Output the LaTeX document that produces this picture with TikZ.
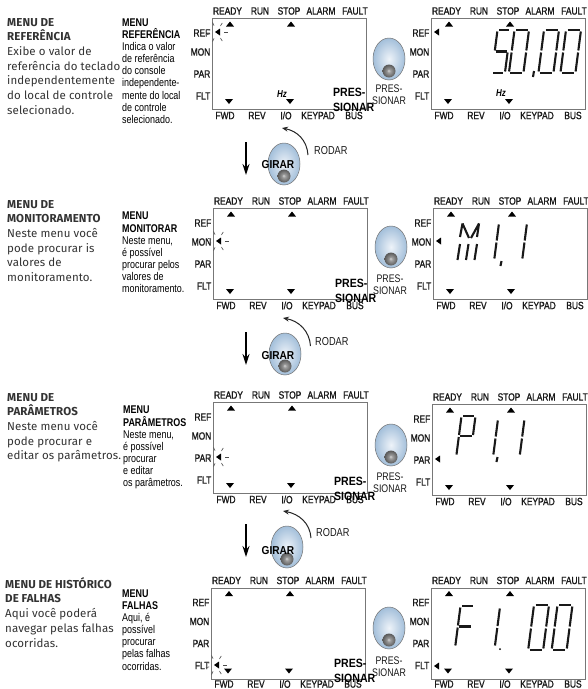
\documentclass[tikz,border=0pt]{standalone}
\usepackage{fontspec}
\setmainfont{Liberation Sans}
\newfontfamily\din[LetterSpace=1]{Fira Sans}
\newfontfamily\narrow[FakeStretch=0.8]{Liberation Sans}
\newfontfamily\lab[FakeStretch=0.8,FakeBold=1.2]{Liberation Sans}
\newfontfamily\pressf[FakeStretch=0.88]{Liberation Sans}
\definecolor{boxgray}{HTML}{777777}
\definecolor{bodytxt}{HTML}{333333}
\definecolor{knobin}{HTML}{EEF3F9}
\definecolor{knobout}{HTML}{A3BFDA}
\usetikzlibrary{arrows.meta,shapes.geometric}
\tikzset{
  lcdbox/.style={draw=boxgray,line width=1.2pt},
  lcdlabel/.style={inner sep=0pt,font=\lab\fontsize{10.5}{12}\selectfont,text=black!90},
  sidelabel/.style={lcdlabel,anchor=east},
  segline/.style={line width=2.1pt,black!90},
  tri/.style={fill=black,draw=none},
  ray/.style={line width=0.6pt,black!70},
  hzlabel/.style={inner sep=0pt,font=\narrow\bfseries\itshape\fontsize{10}{11}\selectfont},
  menuhead/.style={anchor=north west,align=left,inner sep=0pt,text=bodytxt,font=\din\fontsize{11.5}{14.7}\selectfont},
  menumid/.style={anchor=north west,align=left,inner sep=0pt,text=black,font=\narrow\fontsize{11.2}{12.1}\selectfont},
  presslabel/.style={inner sep=0pt,align=left,anchor=north west,text=black,font=\pressf\bfseries\fontsize{12}{14.6}\selectfont},
  knoblabel/.style={inner sep=0pt,align=center,text=black!90,font=\narrow\fontsize{11}{12}\selectfont},
  turnlabel/.style={inner sep=0pt,text=black!90,font=\narrow\fontsize{11.5}{13}\selectfont},
  girarlabel/.style={inner sep=0pt,text=black,font=\pressf\bfseries\fontsize{11.5}{12}\selectfont},
  downarrow/.style={-{Stealth[length=11pt,width=7pt]},line width=1.5pt,black},
  turnarrow/.style={-{Stealth[length=6pt,width=5pt]},line width=1pt,black!85},
}
\def\botoff{97.5}
% LCD panel: prefix, x, y
\newcommand\lcdpanel[3]{%
  \begin{scope}[shift={(#2,#3)}]
    \node[lcdbox,draw,inner sep=0pt,minimum width=154pt,minimum height=91pt,anchor=north west] (#1box) at (0,0) {};
    \node[lcdlabel] (#1ready) at (15.5,-7) {READY};
    \node[lcdlabel] (#1run) at (48,-7) {RUN};
    \node[lcdlabel] (#1stop) at (77,-7) {STOP};
    \node[lcdlabel] (#1alarm) at (109,-7) {ALARM};
    \node[lcdlabel] (#1fault) at (143,-7) {FAULT};
    \node[lcdlabel] (#1fwd) at (13,\botoff) {FWD};
    \node[lcdlabel] (#1rev) at (45,\botoff) {REV};
    \node[lcdlabel] (#1io) at (74,\botoff) {I/O};
    \node[lcdlabel] (#1keypad) at (106,\botoff) {KEYPAD};
    \node[lcdlabel] (#1bus) at (142,\botoff) {BUS};
    \node[sidelabel] (#1ref) at (-1.5,15) {REF};
    \node[sidelabel] (#1mon) at (-1.5,34) {MON};
    \node[sidelabel] (#1par) at (-1.5,56) {PAR};
    \node[sidelabel] (#1flt) at (-1.5,78) {FLT};
    \fill[tri] (14,8.5) -- (22,8.5) -- (18,3.5) -- cycle;
    \fill[tri] (75,8.5) -- (83,8.5) -- (79,3.5) -- cycle;
    \fill[tri] (13,81) -- (21,81) -- (17,86) -- cycle;
    \fill[tri] (74,81) -- (82,81) -- (78,86) -- cycle;
  \end{scope}}
% active marker, relative to box corner
\newcommand\marker[3]{%
  \begin{scope}[shift={(#1,#2)}]
    \fill[tri] (3,#3) -- (8,#3-3.5) -- (8,#3+3.5) -- cycle;
  \end{scope}}
\newcommand\blink[3]{%
  \begin{scope}[shift={(#1+5,#2+#3)}]
    \marker{-5}{0}{0}
    \foreach \a in {0,60,115,245,300,165,195}
      \draw[ray] (\a:7) -- (\a:10.5);
  \end{scope}}
% seven segment digit: x,y,w,h,segments
\newcommand\segdigit[5]{%
  \begin{scope}[shift={(#1,#2)},xslant=0.13]
    \pgfmathsetmacro\sw{#3}\pgfmathsetmacro\sh{#4}\pgfmathsetmacro\shm{#4/2}
    \foreach \s in {#5}{\csname seg\s\endcsname}
  \end{scope}}
\def\sega{\draw[segline] (1.5,0) -- (\sw-1.5,0);}
\def\segb{\draw[segline] (\sw,1.5) -- (\sw,\shm-1);}
\def\segc{\draw[segline] (\sw,\shm+1) -- (\sw,\sh-1.5);}
\def\segd{\draw[segline] (1.5,\sh) -- (\sw-1.5,\sh);}
\def\sege{\draw[segline] (0,\shm+1) -- (0,\sh-1.5);}
\def\segf{\draw[segline] (0,1.5) -- (0,\shm-1);}
\def\segg{\draw[segline] (1,\shm) -- (\sw-1,\shm);}
\newcommand\knob[3]{%
  \node[ellipse,draw=black!55,line width=0.5pt,minimum width=32pt,minimum height=42pt,inner sep=0pt,
        shading=radial,inner color=knobin,outer color=knobout] (#1) at (#2,#3) {};
  \node[circle,inner sep=0pt,minimum size=13pt,shading=radial,inner color=gray!60,outer color=black!65] (#1in) at (#2,#3+12) {};
  \fill[gray!50] (#2,#3+12) circle (1.5pt);}
\begin{document}
\begin{tikzpicture}[x=1pt,y=-1pt]
\useasboundingbox[fill=white] (0,0) rectangle (588,689);

% left column
\node[menuhead] (h1) at (7,18) {\textbf{MENU DE}\\\textbf{REFERÊNCIA}\\Exibe o valor de\\referência do teclado\\independentemente\\do local de controle\\selecionado.};
\node[menuhead] (h2) at (7,200) {\textbf{MENU DE}\\\textbf{MONITORAMENTO}\\Neste menu você\\pode procurar is\\valores de\\monitoramento.};
\node[menuhead] (h3) at (7,393) {\textbf{MENU DE}\\\textbf{PARÂMETROS}\\Neste menu você\\pode procurar e\\editar os parâmetros.};
\node[menuhead] (h4) at (5,577) {\textbf{MENU DE HISTÓRICO}\\\textbf{DE FALHAS}\\Aqui você poderá\\navegar pelas falhas\\ocorridas.};

% middle column
\node[menumid] (m1) at (122,18.5) {\textbf{MENU}\\\textbf{REFERÊNCIA}\\Indica o valor\\de referência\\do console\\independente-\\mente do local\\de controle\\selecionado.};
\node[menumid] (m2) at (122,212) {\textbf{MENU}\\\textbf{MONITORAR}\\Neste menu,\\é possível\\procurar pelos\\valores de\\monitoramento.};
\node[menumid] (m3) at (123,406) {\textbf{MENU}\\\textbf{PARÂMETROS}\\Neste menu,\\é possível\\procurar\\e editar\\os parâmetros.};
\node[menumid] (m4) at (122,589.5) {\textbf{MENU}\\\textbf{FALHAS}\\Aqui, é\\possível\\procurar\\pelas falhas\\ocorridas.};

% panels
\lcdpanel{a}{212}{18}
\lcdpanel{b}{431}{18}
\lcdpanel{c}{213}{208}
\lcdpanel{d}{433}{208}
\lcdpanel{e}{213}{402}
\lcdpanel{f}{432}{404}
\def\botoff{96.5}
\lcdpanel{g}{211}{587.5}
\lcdpanel{h}{431}{587.5}

% markers
\blink{212}{18}{14}
\blink{213}{208}{33}
\blink{213}{402}{55}
\blink{211}{588}{77}
\marker{431}{18}{14}
\marker{433}{208}{33}
\marker{432}{404}{55}
\marker{431}{588}{78}

% Hz
\node[hzlabel] (hza) at (282,94) {Hz};
\node[hzlabel] (hzb) at (501,93) {Hz};

% 50,00
\segdigit{497.5}{30}{13}{43}{a,f,g,c,d}
\segdigit{514.5}{30}{14.5}{43}{a,b,c,d,e,f}
\segdigit{544}{30}{15}{43}{a,b,c,d,e,f}
\segdigit{566}{30}{15}{43}{a,b,c,d,e,f}
\draw[segline] (534,71) -- (533,77);
% M1,1
\draw[segline] (462.5,223.5) -- (460,237);
\draw[segline] (462.5,223.5) -- (469,238);
\draw[segline] (479,223.5) -- (471,238);
\draw[segline] (479,223.5) -- (477,237);
\draw[segline] (460,244) -- (457.5,260);
\draw[segline] (468.5,244) -- (466,260);
\draw[segline] (477,244) -- (474.5,260);
\segdigit{499}{223}{0}{37}{b,c}
\segdigit{527}{223}{0}{37}{b,c}
\draw[segline] (501.5,261) -- (500.5,266);
% P1,1
\segdigit{461.5}{416}{14}{40}{a,b,f,g,e}
\segdigit{498}{419}{0}{37}{b,c}
\segdigit{524.5}{419}{0}{37}{b,c}
\draw[segline] (497.5,457) -- (496.5,462);
% F1.00
\segdigit{460.5}{606}{14}{41}{a,f,g,e}
\segdigit{500}{607}{0}{40}{b,c}
\fill (500,649) circle (1pt);
\segdigit{534}{605}{15}{45}{a,b,c,d,e,f}
\segdigit{557.5}{605}{15}{45}{a,b,c,d,e,f}

% knobs next to the panels
\knob{ka}{389}{59}
\knob{kb}{391}{247}
\knob{kc}{391}{445}
\knob{kd}{389}{628}
\node[knoblabel] (la) at (389,95) {PRES-\\SIONAR};
\node[knoblabel] (lb) at (390,284.5) {PRES-\\SIONAR};
\node[knoblabel] (lc) at (390,483) {PRES-\\SIONAR};
\node[knoblabel] (ld) at (389,667) {PRES-\\SIONAR};

% turning knobs
\knob{ta}{284}{164}
\knob{tb}{285}{354}
\knob{tc}{287}{547}
\node[girarlabel] (ga) at (278,165) {GIRAR};
\node[girarlabel] (gb) at (278,356) {GIRAR};
\node[girarlabel] (gc) at (278,551) {GIRAR};
\node[turnlabel,anchor=west] (ra) at (314,151) {RODAR};
\node[turnlabel,anchor=west] (rb) at (315,342) {RODAR};
\node[turnlabel,anchor=west] (rc) at (316,533) {RODAR};

% arrows
\coordinate (da1) at (246,142); \coordinate (da2) at (246,175);
\coordinate (db1) at (246,332); \coordinate (db2) at (246,365);
\coordinate (dc1) at (246,524); \coordinate (dc2) at (246,557);
\draw[downarrow] (da1) -- (da2);
\draw[downarrow] (db1) -- (db2);
\draw[downarrow] (dc1) -- (dc2);
\coordinate (aa1) at (308,155); \coordinate (aa2) at (282,128);
\coordinate (ab1) at (310.5,346); \coordinate (ab2) at (283,318);
\coordinate (ac1) at (311,538); \coordinate (ac2) at (283,511);
\draw[turnarrow] (aa1) .. controls (307,140) and (297,131) .. (aa2);
\draw[turnarrow] (ab1) .. controls (309.5,331) and (299,321) .. (ab2);
\draw[turnarrow] (ac1) .. controls (310,523) and (299,514) .. (ac2);

% overlaid labels
\node[presslabel] (pa) at (333,88) {PRES-\\SIONAR};
\node[presslabel] (pb) at (335,279) {PRES-\\SIONAR};
\node[presslabel] (pc) at (334,477) {PRES-\\SIONAR};
\node[presslabel] (pd) at (334,659) {PRES-\\SIONAR};
\end{tikzpicture}
\end{document}
